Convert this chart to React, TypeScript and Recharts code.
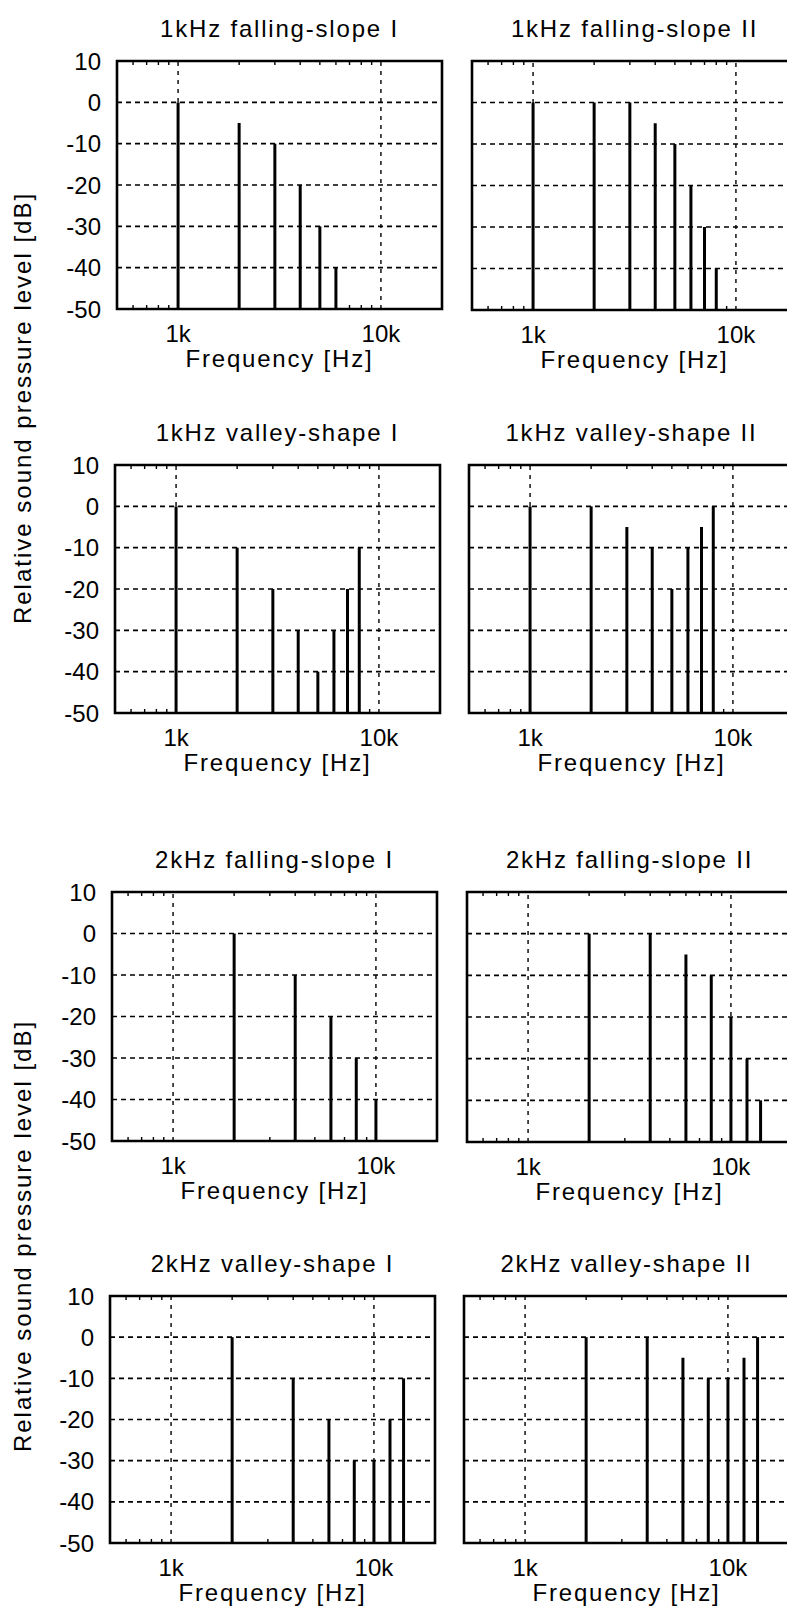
import React from 'react';
import { LineChart, Line, XAxis, YAxis, CartesianGrid, ReferenceLine, ReferenceArea, Label } from 'recharts';

const FONT = '"Liberation Sans", Arial, Helvetica, sans-serif';

// ---- axis definitions ----
const xDomain = [500, 20000];
const xTicks = [500, 600, 700, 800, 900, 1000, 2000, 3000, 4000, 5000, 6000, 7000, 8000, 9000, 10000, 20000];
const xMajor = [1000, 10000];
const xMajorLabels = ['1k', '10k'];
const yDomain = [-50, 10];
const yTicks = [-50, -40, -30, -20, -10, 0, 10];
const floorLevel = -50;
const xAxisTitle = 'Frequency [Hz]';
const yAxisTitle = 'Relative sound pressure level [dB]';

// ---- titles ----
const titles = [
  '1kHz falling-slope I',
  '1kHz falling-slope II',
  '1kHz valley-shape I',
  '1kHz valley-shape II',
  '2kHz falling-slope I',
  '2kHz falling-slope II',
  '2kHz valley-shape I',
  '2kHz valley-shape II',
];

// ---- data: harmonic frequencies (Hz) and levels (dB) ----
const freq1kFallI = [1000, 2000, 3000, 4000, 5000, 6000];
const level1kFallI = [0, -5, -10, -20, -30, -40];
const freq1kFallII = [1000, 2000, 3000, 4000, 5000, 6000, 7000, 8000];
const level1kFallII = [0, 0, 0, -5, -10, -20, -30, -40];
const freq1kValley = [1000, 2000, 3000, 4000, 5000, 6000, 7000, 8000];
const level1kValleyI = [0, -10, -20, -30, -40, -30, -20, -10];
const level1kValleyII = [0, 0, -5, -10, -20, -10, -5, 0];
const freq2kFallI = [2000, 4000, 6000, 8000, 10000];
const level2kFallI = [0, -10, -20, -30, -40];
const freq2kFallII = [2000, 4000, 6000, 8000, 10000, 12000, 14000];
const level2kFallII = [0, 0, -5, -10, -20, -30, -40];
const freq2kValley = [2000, 4000, 6000, 8000, 10000, 12000, 14000];
const level2kValleyI = [0, -10, -20, -30, -30, -20, -10];
const level2kValleyII = [0, 0, -5, -10, -10, -5, 0];

const seriesFreqs = [freq1kFallI, freq1kFallII, freq1kValley, freq1kValley, freq2kFallI, freq2kFallII, freq2kValley, freq2kValley];
const seriesLevels = [level1kFallI, level1kFallII, level1kValleyI, level1kValleyII, level2kFallI, level2kFallII, level2kValleyI, level2kValleyII];

// ---- layout (plot area left, top, bottom; whether y tick labels are shown) ----
const layout = [
  { left: 117, top: 61, bottom: 309, yLabels: true },
  { left: 472, top: 61, bottom: 310, yLabels: false },
  { left: 115, top: 465, bottom: 713, yLabels: true },
  { left: 469, top: 465, bottom: 713, yLabels: false },
  { left: 112, top: 892, bottom: 1141, yLabels: true },
  { left: 467, top: 892, bottom: 1142, yLabels: false },
  { left: 110, top: 1296, bottom: 1543, yLabels: true },
  { left: 464, top: 1296, bottom: 1543, yLabels: false },
];
const PLOT_W = 325;
const Y_AXIS_W = 80;
const TOP_AXIS_H = 50;
const BOTTOM_AXIS_H = 70;
const RIGHT_MARGIN = 4;

const BottomTick = (props: any) => {
  const { x, y, payload } = props;
  const idx = xMajor.indexOf(payload.value);
  if (idx >= 0) {
    return (
      <text x={x} y={y + 33} textAnchor="middle" fontSize={24} fontFamily={FONT} fill="#000">
        {xMajorLabels[idx]}
      </text>
    );
  }
  return <line x1={x} x2={x} y1={y} y2={y - 4} stroke="#000" strokeWidth={1.4} />;
};

const TopTick = (props: any) => {
  const { x, y, payload } = props;
  if (xMajor.indexOf(payload.value) >= 0) return <g />;
  return <line x1={x} x2={x} y1={y} y2={y + 4} stroke="#000" strokeWidth={1.4} />;
};

const HiddenTick = () => <g />;

function Panel({ i }: { i: number }) {
  const lay = layout[i];
  const plotH = lay.bottom - lay.top;
  const width = Y_AXIS_W + PLOT_W + RIGHT_MARGIN;
  const height = TOP_AXIS_H + plotH + BOTTOM_AXIS_H;
  const freqs = seriesFreqs[i];
  const levels = seriesLevels[i];
  return (
    <div style={{ position: 'absolute', left: lay.left - Y_AXIS_W, top: lay.top - TOP_AXIS_H }}>
      <LineChart width={width} height={height} margin={{ top: 0, right: RIGHT_MARGIN, bottom: 0, left: 0 }}>
        <CartesianGrid vertical={false} stroke="#000" strokeWidth={1.6} strokeDasharray="5 4" />
        <XAxis
          xAxisId={0}
          dataKey="f"
          type="number"
          scale="log"
          domain={xDomain}
          ticks={xTicks}
          interval={0}
          allowDataOverflow
          height={BOTTOM_AXIS_H}
          tickSize={0}
          tickMargin={0}
          tickLine={false}
          axisLine={false}
          tick={BottomTick}
        >
          <Label
            value={xAxisTitle}
            position="insideBottom"
            offset={12.5}
            fontSize={24}
            fill="#000"
            style={{ fontFamily: FONT, letterSpacing: '1.8px' }}
          />
        </XAxis>
        <XAxis
          xAxisId="top"
          orientation="top"
          dataKey="f"
          type="number"
          scale="log"
          domain={xDomain}
          ticks={xTicks}
          interval={0}
          allowDataOverflow
          height={TOP_AXIS_H}
          tickSize={0}
          tickMargin={0}
          tickLine={false}
          axisLine={false}
          tick={TopTick}
        >
          <Label
            value={titles[i]}
            position="insideBottom"
            offset={24}
            fontSize={24}
            fill="#000"
            style={{ fontFamily: FONT, letterSpacing: '1.8px' }}
          />
        </XAxis>
        <YAxis
          type="number"
          domain={yDomain}
          ticks={yTicks}
          interval={0}
          width={Y_AXIS_W}
          tickSize={0}
          tickMargin={16}
          tickLine={false}
          axisLine={false}
          tick={lay.yLabels ? { fontSize: 24, fill: '#000', fontFamily: FONT } : HiddenTick}
        />
        {xMajor.map((v) => (
          <ReferenceLine key={'rl' + v} x={v} stroke="#000" strokeWidth={1.4} strokeDasharray="4 5" />
        ))}
        {freqs.map((f, k) => (
          <Line
            key={'s' + k}
            data={[
              { f, v: floorLevel },
              { f, v: levels[k] },
            ]}
            dataKey="v"
            type="linear"
            stroke="#000"
            strokeWidth={3}
            dot={false}
            activeDot={false}
            isAnimationActive={false}
          />
        ))}
        <ReferenceArea
          x1={xDomain[0]}
          x2={xDomain[1]}
          y1={yDomain[0]}
          y2={yDomain[1]}
          fill="none"
          fillOpacity={0}
          stroke="#000"
          strokeWidth={2.6}
          ifOverflow="visible"
        />
      </LineChart>
    </div>
  );
}

function YTitle({ centerY }: { centerY: number }) {
  return (
    <svg style={{ position: 'absolute', left: 0, top: centerY - 260 }} width={50} height={520}>
      <text
        x={31}
        y={260}
        transform={`rotate(-90 31 260)`}
        textAnchor="middle"
        fontSize={24}
        fontFamily={FONT}
        fill="#000"
        style={{ letterSpacing: '2px' }}
      >
        {yAxisTitle}
      </text>
    </svg>
  );
}

export default function App() {
  return (
    <div
      style={{
        position: 'absolute',
        left: 0,
        top: 0,
        width: 787,
        height: 1618,
        overflow: 'hidden',
        background: '#fff',
      }}
    >
      {layout.map((_, i) => (
        <Panel key={i} i={i} />
      ))}
      <YTitle centerY={408} />
      <YTitle centerY={1236} />
    </div>
  );
}
